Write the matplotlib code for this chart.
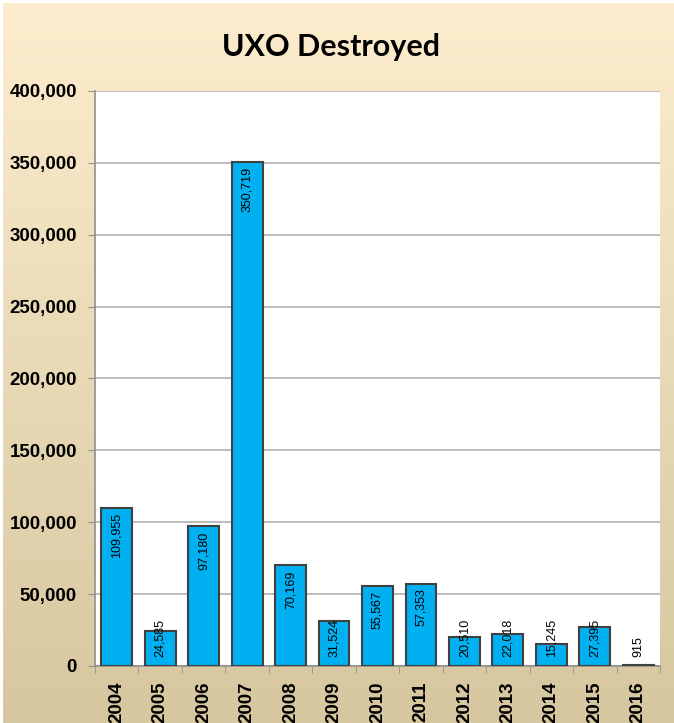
import matplotlib
matplotlib.use('Agg')
import matplotlib.pyplot as plt
import numpy as np
from matplotlib.ticker import FuncFormatter, MultipleLocator

years = ['2004', '2005', '2006', '2007', '2008', '2009', '2010',
         '2011', '2012', '2013', '2014', '2015', '2016']
destroyed = [109955, 24585, 97180, 350719, 70169, 31524, 55567,
             57353, 20510, 22018, 15245, 27395, 915]

W, H = 674, 723
fig = plt.figure(figsize=(W / 100, H / 100), dpi=100)

# background gradient (cream -> tan)
bg = fig.add_axes([0, 0, 1, 1], zorder=0)
top = np.array([253, 237, 206]) / 255
bot = np.array([214, 199, 160]) / 255
t = np.linspace(0, 1, 256)[:, None]
grad = (top[None, :] * (1 - t) + bot[None, :] * t)[:, None, :]
bg.imshow(grad, aspect='auto', extent=[0, 1, 0, 1])
bg.set_xlim(0, 1)
bg.set_ylim(0, 1)
# thin white frame at top/left like the pasted screenshot
bg.plot([0, 1], [0.998, 0.998], color='white', lw=3)
bg.plot([0.002, 0.002], [0, 1], color='white', lw=3)
bg.axis('off')

ax = fig.add_axes([95 / W, (H - 666) / H, 565 / W, 575 / H], zorder=1)
ax.set_facecolor('white')

x = np.arange(len(years))
ax.bar(x, destroyed, width=0.71, color='#00b0f0', edgecolor='#404040',
       linewidth=1.5, zorder=3)

ax.set_xlim(-0.5, len(years) - 0.5)
ax.set_ylim(0, 400000)
ax.yaxis.set_major_locator(MultipleLocator(50000))
ax.yaxis.set_major_formatter(FuncFormatter(lambda v, p: '{:,.0f}'.format(v)))
ax.grid(axis='y', color='#b0b0b0', linewidth=1.2, zorder=0)

ax.set_xticks(x)
ax.set_xticklabels(years, rotation=90, fontsize=13.5, fontweight='bold',
                   family='Liberation Sans')
ax.set_xticks(np.arange(-0.5, len(years)), minor=True)
ax.tick_params(axis='x', which='major', length=0, pad=11)
ax.tick_params(axis='x', which='minor', length=5, color='#909090')
for lab in ax.get_yticklabels():
    lab.set_fontweight('bold')
    lab.set_family('Liberation Sans')
ax.tick_params(axis='y', labelsize=13.5, length=5, color='#909090', pad=8)

for s in ['top', 'right']:
    ax.spines[s].set_visible(False)
for s in ['left', 'bottom']:
    ax.spines[s].set_color('#909090')
    ax.spines[s].set_linewidth(1.2)

# value labels
px_per_unit = 575 / 400000
for xi, v in zip(x, destroyed):
    txt = '{:,}'.format(v)
    if v * px_per_unit > 50:
        ax.annotate(txt, (xi, v), xytext=(0, -5), textcoords='offset pixels',
                    rotation=90, ha='center', va='top', fontsize=9,
                    family='Liberation Sans', zorder=4)
    else:
        ax.annotate(txt, (xi, 0), xytext=(0, 9), textcoords='offset pixels',
                    rotation=90, ha='center', va='bottom', fontsize=9,
                    family='Liberation Sans', zorder=4)

fig.text(331 / W, (H - 47) / H, 'UXO Destroyed', ha='center', va='center',
         fontsize=22, fontweight='bold', family='Lato')

fig.savefig('out.png', dpi=100)
